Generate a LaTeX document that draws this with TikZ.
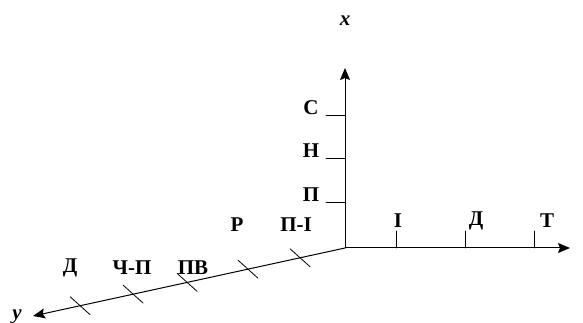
\documentclass[tikz,border=0pt]{standalone}
\usepackage{fontspec}
\setmainfont{Liberation Serif}
\usetikzlibrary{calc,positioning,arrows.meta}
\begin{document}
\begin{tikzpicture}[line cap=round, line join=round, font=\bfseries\fontsize{21}{21}\selectfont, >={Stealth[length=12pt,width=10pt,inset=2pt]}, x=1pt, y=1pt]
			\tikzset{axis style/.style={line width=1pt}, tick style/.style={line width=0.8pt}}
			\useasboundingbox (0,0) rectangle (583,323);
			\coordinate (O) at (345,75);
			\coordinate (X) at (345,255);
			\coordinate (Z) at (570,75);
			\coordinate (Y) at (33,7);
			\draw[axis style,->] (O)--(X);
			\draw[axis style,->] (O)--(Z);
			\draw[axis style,->] (O)--(Y);
			\node (xl) at (345,302) {\itshape x};
			\node (zl) at (589,53) {\itshape z};
			\node (yl) at (17,6) {\itshape y};
			% x axis
			\foreach \h/\t/\n in {208/С/xc, 165/Н/xn, 121/П/xp}{
				\draw[tick style] (326,\h)--(345,\h);
				\node (\n) at (311,\h+7) {\t};
			}
			% z axis
			\foreach \w/\t/\n/\d in {396/І/zi/2, 465/Д/zd/11, 534/Т/zt/13}{
				\draw[tick style] (\w,75)--(\w,92);
				\node (\n) at (\w+\d,102) {\t};
			}
			% y axis
			\foreach \p in {0.144, 0.311, 0.506, 0.679, 0.849}
				\draw[tick style] ($(O)!\p!(Y)+(-10,9)$)--($(O)!\p!(Y)+(10,-9)$);
			\node (pi) at (296,98) {П-І};
			\node (r) at (237,98) {Р};
			\node (pv) at (193,55) {ПВ};
			\node (chp) at (132,55) {Ч-П};
			\node (d) at (70,55) {Д};
		\end{tikzpicture}
\end{document}
